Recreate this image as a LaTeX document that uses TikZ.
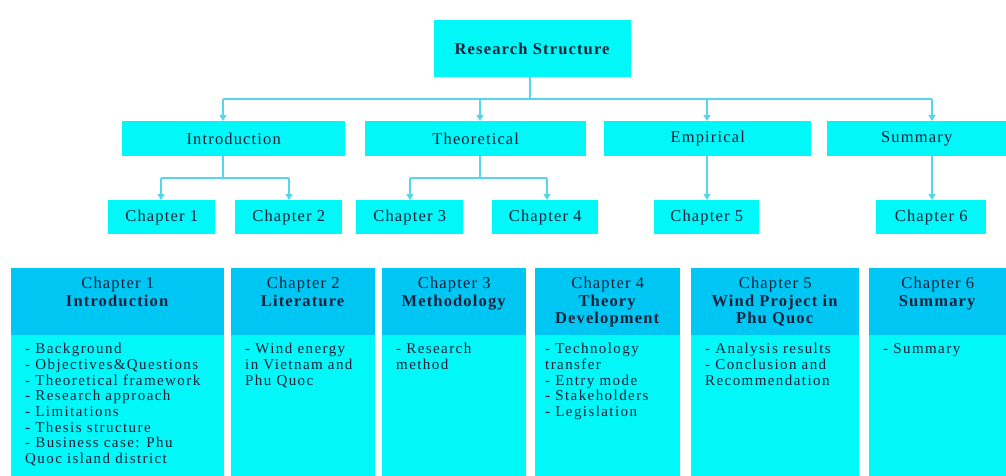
\documentclass[tikz,border=0pt]{standalone}
\usepackage{fontspec}
\setmainfont{Liberation Serif}[LetterSpace=7]
\newfontfamily\bodyfont{Liberation Serif}[LetterSpace=9.5]
\usetikzlibrary{arrows.meta}
\definecolor{cy}{HTML}{00F8F8}
\definecolor{hb}{HTML}{00C6F4}
\definecolor{lnc}{HTML}{55D6EE}
\definecolor{tx}{HTML}{18203A}
\begin{document}
\begin{tikzpicture}[x=1pt,y=-1pt,
  font=\fontsize{16.5}{17.5}\selectfont, text=tx,
  box/.style={fill=cy, draw=none, inner sep=0pt, anchor=north west},
  hdr/.style={fill=hb, draw=none, inner sep=0pt, anchor=north west},
  bdy/.style={fill=cy, draw=none, inner sep=0pt, anchor=north west},
  htx/.style={anchor=north, align=center, inner sep=0pt, font=\fontsize{16.5}{17.5}\selectfont},
  btx/.style={anchor=north west, align=left, inner sep=0pt, font=\bodyfont\fontsize{15}{15.7}\selectfont},
  conn/.style={draw=lnc, line width=1.3pt},
  arr/.style={draw=lnc, line width=1.3pt, -{Triangle[width=7pt,length=6pt]}},
]
\useasboundingbox (0,0) rectangle (1006,476);

% top
\node[box, minimum width=197, minimum height=57] (top) at (434,20) {\textbf{Research Structure}};

% level 2
\node[box, minimum width=223, minimum height=35] (intro) at (122,121) {Introduction};
\node[box, minimum width=221, minimum height=35] (theo) at (365,121) {Theoretical};
\node[box, minimum width=207, minimum height=35] (emp) at (604,121) {Empirical};
\node[box, minimum width=179, minimum height=35] (summ) at (827,121) {Summary};

% level 3
\node[box, minimum width=107, minimum height=34] (c1) at (108,200) {Chapter 1};
\node[box, minimum width=107, minimum height=34] (c2) at (235,200) {Chapter 2};
\node[box, minimum width=107, minimum height=34] (c3) at (356,200) {Chapter 3};
\node[box, minimum width=106, minimum height=34] (c4) at (492,200) {Chapter 4};
\node[box, minimum width=105, minimum height=34] (c5) at (654,200) {Chapter 5};
\node[box, minimum width=110, minimum height=34] (c6) at (876,200) {Chapter 6};

% connectors top -> level 2
\coordinate (j0) at (530,99);
\coordinate (b1) at (223,99);
\coordinate (b2) at (480,99);
\coordinate (b3) at (707,99);
\coordinate (b4) at (932,99);
\draw[conn] (top.south -| j0) -- (j0);
\draw[conn] (b1) -- (b4);
\draw[arr] (b1) -- (b1 |- intro.north);
\draw[arr] (b2) -- (b2 |- theo.north);
\draw[arr] (b3) -- (b3 |- emp.north);
\draw[arr] (b4) -- (b4 |- summ.north);

% level 2 -> level 3
\coordinate (i0) at (223,178);
\coordinate (i1) at (161,178);
\coordinate (i2) at (289,178);
\draw[conn] (i0 |- intro.south) -- (i0);
\draw[conn] (i1) -- (i2);
\draw[arr] (i1) -- (i1 |- c1.north);
\draw[arr] (i2) -- (i2 |- c2.north);
\coordinate (t0) at (480,178);
\coordinate (t1) at (410,178);
\coordinate (t2) at (547,178);
\draw[conn] (t0 |- theo.south) -- (t0);
\draw[conn] (t1) -- (t2);
\draw[arr] (t1) -- (t1 |- c3.north);
\draw[arr] (t2) -- (t2 |- c4.north);
\coordinate (e0) at (707,156);
\draw[arr] (e0 |- emp.south) -- (e0 |- c5.north);
\coordinate (s0) at (932,156);
\draw[arr] (s0 |- summ.south) -- (s0 |- c6.north);

% bottom columns
\node[hdr, minimum width=213, minimum height=67] (h1) at (11,268) {};
\node[bdy, minimum width=213, minimum height=141] (d1) at (11,335) {};
\node[hdr, minimum width=144, minimum height=67] (h2) at (231,268) {};
\node[bdy, minimum width=144, minimum height=141] (d2) at (231,335) {};
\node[hdr, minimum width=144, minimum height=67] (h3) at (382,268) {};
\node[bdy, minimum width=144, minimum height=141] (d3) at (382,335) {};
\node[hdr, minimum width=145, minimum height=67] (h4) at (535,268) {};
\node[bdy, minimum width=145, minimum height=141] (d4) at (535,335) {};
\node[hdr, minimum width=168, minimum height=67] (h5) at (691,268) {};
\node[bdy, minimum width=168, minimum height=141] (d5) at (691,335) {};
\node[hdr, minimum width=137, minimum height=67] (h6) at (869,268) {};
\node[bdy, minimum width=137, minimum height=141] (d6) at (869,335) {};

\node[htx] (ht1) at ([yshift=-9pt]h1.north) {Chapter 1\\\textbf{Introduction}};
\node[htx] (ht2) at ([yshift=-9pt]h2.north) {Chapter 2\\\textbf{Literature}};
\node[htx] (ht3) at ([yshift=-9pt]h3.north) {Chapter 3\\\textbf{Methodology}};
\node[htx] (ht4) at ([yshift=-9pt]h4.north) {Chapter 4\\\textbf{Theory}\\\textbf{Development}};
\node[htx] (ht5) at ([yshift=-9pt]h5.north) {Chapter 5\\\textbf{Wind Project in}\\\textbf{Phu Quoc}};
\node[htx] (ht6) at ([yshift=-9pt]h6.north) {Chapter 6\\\textbf{Summary}};

\node[btx] (bt1) at ([xshift=14pt,yshift=-8pt]d1.north west) {- Background\\- Objectives\&Questions\\- Theoretical framework\\- Research approach\\- Limitations\\- Thesis structure\\- Business case: Phu\\Quoc island district};
\node[btx] (bt2) at ([xshift=14pt,yshift=-8pt]d2.north west) {- Wind energy\\in Vietnam and\\Phu Quoc};
\node[btx] (bt3) at ([xshift=14pt,yshift=-8pt]d3.north west) {- Research\\method};
\node[btx] (bt4) at ([xshift=10pt,yshift=-8pt]d4.north west) {- Technology\\transfer\\- Entry mode\\- Stakeholders\\- Legislation};
\node[btx] (bt5) at ([xshift=14pt,yshift=-8pt]d5.north west) {- Analysis results\\- Conclusion and\\Recommendation};
\node[btx] (bt6) at ([xshift=14pt,yshift=-8pt]d6.north west) {- Summary};
\end{tikzpicture}
\end{document}
